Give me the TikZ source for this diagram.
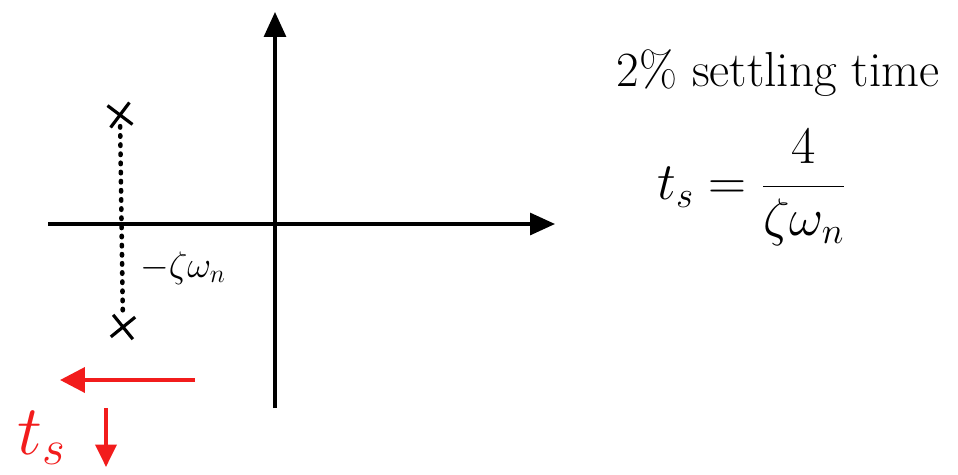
\RequirePackage{fix-cm}
\documentclass[tikz,border=0pt]{standalone}
\usepackage{tikz}
\usetikzlibrary{arrows.meta,positioning,shapes.misc}
\definecolor{Ink}{HTML}{000000}
\definecolor{Pen}{HTML}{F21C1C}
\tikzset{
  axis/.style={-{Triangle[length=5mm,width=4.4mm]}, line width=1.8pt, draw=Ink},
  pole/.style={cross out, draw=Ink, line width=1.8pt, minimum size=0.38cm, inner sep=0pt},
  trace/.style={draw=Ink, line width=2.6pt, line cap=round, dash pattern=on 0.8pt off 4.4pt},
  hint/.style={-{Triangle[length=5mm,width=5mm]}, line width=2.2pt, draw=Pen},
  note/.style={text=Ink, inner sep=0pt}
}
\begin{document}
\begin{tikzpicture}[x=0.02cm,y=-0.02cm]
  \useasboundingbox (0,0) rectangle (958,474);
  % axes
  \coordinate (xl) at (48,224);  \coordinate (xr) at (555,224);
  \coordinate (yb) at (275,408); \coordinate (yt) at (275,12);
  \draw[axis] (xl) -- (xr);
  \draw[axis] (yb) -- (yt);
  % complex poles
  \node[pole,rotate=8] (p1) at (120,115) {};
  \node[pole,rotate=-6] (p2) at (123,327) {};
  \draw[trace] (p1) -- (p2);
  \node[note,font=\fontsize{21}{25}\selectfont] (re) at (183,268) {$-\zeta\omega_n$};
  % moving left
  \coordinate (a1) at (195,380); \coordinate (a2) at (60,380);
  \draw[hint] (a1) -- (a2);
  \node[note,text=Pen,font=\fontsize{40}{46}\selectfont] (ts) at (42,438) {$t_s$};
  \coordinate (d1) at (106,408); \coordinate (d2) at (106,467);
  \draw[hint,-{Triangle[length=4.5mm,width=4.2mm]}] (d1) -- (d2);
  % formula
  \node[note,font=\fontsize{28}{33}\selectfont] (title) at (778,73) {2\% settling time};
  \node[note,font=\fontsize{30}{36}\selectfont] (eq) at (752,188) {$t_s=\displaystyle\frac{\;4\;}{\zeta\omega_n}$};
\end{tikzpicture}
\end{document}
